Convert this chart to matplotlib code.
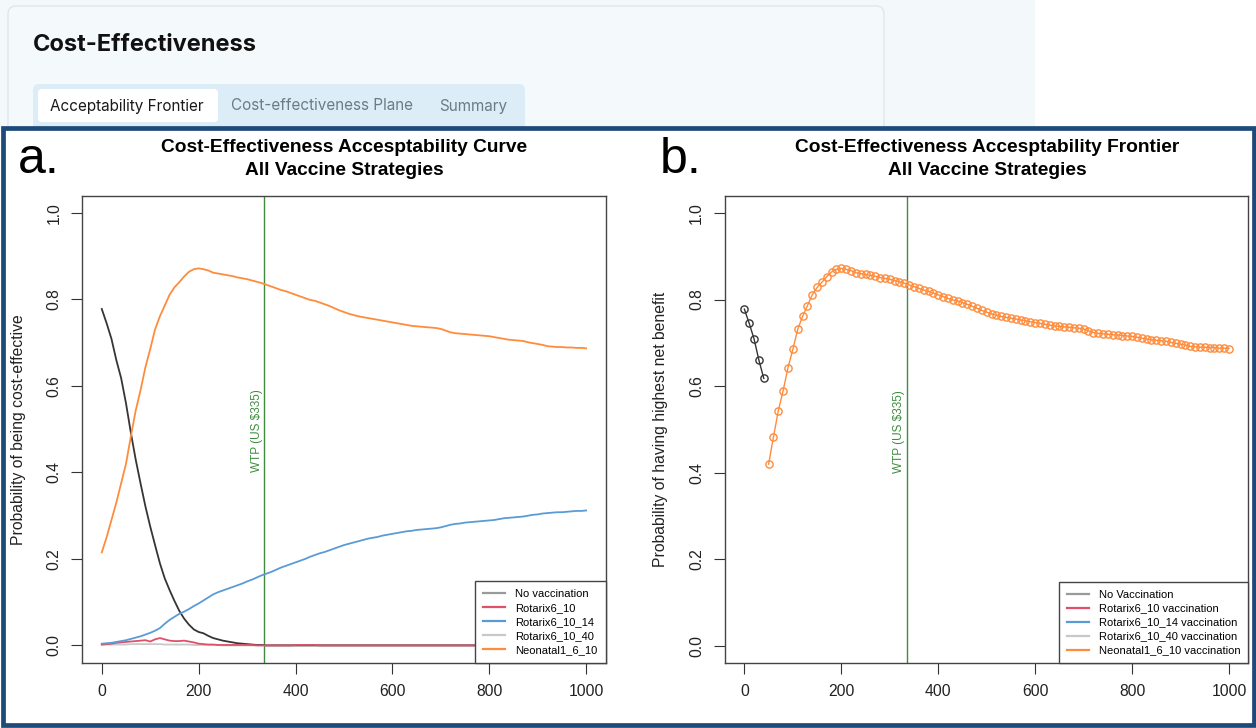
import numpy as np
import matplotlib
matplotlib.use("Agg")
import matplotlib.pyplot as plt
from matplotlib.patches import Rectangle, FancyBboxPatch
from matplotlib.lines import Line2D

plt.rcParams['font.family'] = ['Liberation Sans', 'DejaVu Sans']

# willingness to pay grid (US$)
wtp = list(range(0, 1001, 10))

no_vacc = [0.778, 0.745, 0.709, 0.660, 0.618, 0.560, 0.492, 0.430, 0.375, 0.322,
           0.275, 0.232, 0.190, 0.155, 0.128, 0.103, 0.080, 0.062, 0.048, 0.037,
           0.031, 0.028, 0.022, 0.017, 0.014, 0.011, 0.009, 0.007, 0.005, 0.004,
           0.003, 0.002, 0.001, 0.001] + [0.0] * 67

rotarix_10 = [0.002, 0.003, 0.004, 0.006, 0.007, 0.008, 0.009, 0.010, 0.011, 0.012,
              0.009, 0.014, 0.017, 0.014, 0.011, 0.010, 0.010, 0.011, 0.009, 0.007,
              0.004, 0.003, 0.002, 0.002, 0.001, 0.001, 0.001, 0.001, 0.001, 0.001,
              0.001, 0.001, 0.0, 0.0, 0.0, 0.0, 0.0, 0.0, 0.0, 0.0,
              0.001, 0.001, 0.001, 0.001, 0.001, 0.0, 0.0, 0.0, 0.0, 0.0] + [0.0] * 51

rotarix_10_14 = [0.004, 0.005, 0.006, 0.008, 0.010, 0.012, 0.015, 0.018, 0.021, 0.025,
                 0.029, 0.034, 0.040, 0.050, 0.059, 0.066, 0.073, 0.078, 0.084, 0.091,
                 0.097, 0.104, 0.111, 0.118, 0.123, 0.127, 0.131, 0.135, 0.139, 0.143,
                 0.148, 0.152, 0.157, 0.162, 0.166, 0.170, 0.175, 0.180, 0.184, 0.188,
                 0.192, 0.196, 0.200, 0.205, 0.209, 0.213, 0.216, 0.220, 0.224, 0.228,
                 0.232, 0.235, 0.238, 0.241, 0.244, 0.247, 0.249, 0.251, 0.254, 0.256,
                 0.258, 0.260, 0.262, 0.264, 0.265, 0.267, 0.268, 0.269, 0.270, 0.271,
                 0.273, 0.276, 0.279, 0.281, 0.282, 0.284, 0.285, 0.286, 0.287, 0.288,
                 0.289, 0.290, 0.292, 0.294, 0.295, 0.296, 0.297, 0.298, 0.300, 0.302,
                 0.303, 0.305, 0.306, 0.307, 0.308, 0.308, 0.309, 0.310, 0.311, 0.311,
                 0.312]

rotarix_10_40 = [0.001, 0.002, 0.002, 0.002, 0.002, 0.002, 0.003, 0.003, 0.003, 0.003,
                 0.003, 0.003, 0.003, 0.002, 0.002, 0.002, 0.002, 0.002, 0.002, 0.001,
                 0.001, 0.001, 0.001, 0.001, 0.001, 0.0, 0.0, 0.0, 0.0, 0.0] + [0.0] * 71

neonatal = [0.215, 0.250, 0.290, 0.330, 0.375, 0.420, 0.483, 0.543, 0.590, 0.643,
            0.685, 0.731, 0.761, 0.786, 0.811, 0.828, 0.840, 0.853, 0.864, 0.870,
            0.872, 0.870, 0.867, 0.862, 0.860, 0.858, 0.856, 0.854, 0.851, 0.849,
            0.847, 0.844, 0.841, 0.838, 0.834, 0.830, 0.826, 0.822, 0.819, 0.815,
            0.811, 0.807, 0.803, 0.799, 0.797, 0.793, 0.789, 0.785, 0.780, 0.775,
            0.771, 0.767, 0.764, 0.761, 0.759, 0.757, 0.755, 0.753, 0.751, 0.749,
            0.747, 0.745, 0.743, 0.741, 0.739, 0.738, 0.737, 0.736, 0.735, 0.734,
            0.732, 0.728, 0.724, 0.722, 0.721, 0.720, 0.719, 0.718, 0.717, 0.716,
            0.715, 0.713, 0.711, 0.709, 0.707, 0.706, 0.705, 0.704, 0.701, 0.699,
            0.697, 0.695, 0.692, 0.691, 0.690, 0.690, 0.689, 0.689, 0.688, 0.688,
            0.687]

# optimal strategy switches from no vaccination to Neonatal at this WTP
frontier_switch = 50
wtp_threshold = 335

labels_a = ["No vaccination", "Rotarix6_10", "Rotarix6_10_14", "Rotarix6_10_40", "Neonatal1_6_10"]
labels_b = ["No Vaccination", "Rotarix6_10 vaccination", "Rotarix6_10_14 vaccination",
            "Rotarix6_10_40 vaccination", "Neonatal1_6_10 vaccination"]

c_black = '#353535'
c_red = '#e0506a'
c_blue = '#5b9bd5'
c_lgray = '#c8c8c8'
c_orange = '#ff8c3c'
c_green = '#3f8c3f'
legend_colors = ['#9a9a9a', c_red, c_blue, c_lgray, c_orange]

W, H = 1256, 728
fig = plt.figure(figsize=(W / 100, H / 100), dpi=100)


def rect(l, t, r, b):
    return [l / W, 1 - b / H, (r - l) / W, (b - t) / H]


# page background / header
bg = fig.add_axes([0, 0, 1, 1])
bg.set_xlim(0, W)
bg.set_ylim(H, 0)
bg.axis('off')
bg.add_patch(Rectangle((0, 0), 1035, 130, facecolor='#f3f8fa', edgecolor='none'))
bg.add_patch(FancyBboxPatch((8, 6), 876, 140, boxstyle="round,pad=0,rounding_size=8",
                            facecolor='#f4f9fb', edgecolor='#e0e7eb', lw=1))
bg.add_patch(FancyBboxPatch((33, 84), 492, 50, boxstyle="round,pad=0,rounding_size=6",
                            facecolor='#dcedf8', edgecolor='none'))
bg.add_patch(FancyBboxPatch((38, 89), 180, 33, boxstyle="round,pad=0,rounding_size=4",
                            facecolor='white', edgecolor='none'))
bg.text(33, 45, "Cost-Effectiveness", fontsize=17, fontweight='bold', family='Inter',
        color='#111111', va='center', ha='left')
bg.text(127, 106, "Acceptability Frontier", fontsize=11, family='Inter',
        color='#1a1a1a', va='center', ha='center')
bg.text(322, 106, "Cost-effectiveness Plane", fontsize=11, family='Inter',
        color='#6c7b87', va='center', ha='center')
bg.text(473, 106, "Summary", fontsize=11, family='Inter',
        color='#6c7b87', va='center', ha='center')

# figure frame
bg.add_patch(Rectangle((2.5, 128), W - 5, H - 131, facecolor='white',
                       edgecolor='#1e4a7a', lw=3.4))

bg.text(18, 173, "a.", fontsize=36, va='baseline', ha='left', color='black')
bg.text(660, 173, "b.", fontsize=36, va='baseline', ha='left', color='black')
bg.text(344, 159, "Cost-Effectiveness Accesptability Curve\nAll Vaccine Strategies",
        fontsize=13.8, fontweight='bold', ha='center', va='center', linespacing=1.4)
bg.text(987, 159, "Cost-Effectiveness Accesptability Frontier\nAll Vaccine Strategies",
        fontsize=13.8, fontweight='bold', ha='center', va='center', linespacing=1.4)


def style_axes(ax, ylabel):
    ax.set_xlim(-40, 1040)
    ax.set_ylim(-0.04, 1.04)
    ax.set_xticks([0, 200, 400, 600, 800, 1000])
    ax.set_yticks([0.0, 0.2, 0.4, 0.6, 0.8, 1.0])
    ax.set_yticklabels(["0.0", "0.2", "0.4", "0.6", "0.8", "1.0"])
    ax.tick_params(direction='out', length=8, width=0.8, color='#333333',
                   labelsize=11.3, labelcolor='#222222', pad=7)
    plt.setp(ax.get_yticklabels(), rotation=90, va='center')
    for s in ax.spines.values():
        s.set_color('#444444')
        s.set_linewidth(1)
    ax.set_ylabel(ylabel, fontsize=11.3, color='#222222', labelpad=15)
    ax.axvline(wtp_threshold, color=c_green, lw=1, zorder=1)
    ax.text(wtp_threshold - 3, 0.4, "WTP (US $335)", rotation=90, color=c_green,
            fontsize=8.5, ha='right', va='bottom')


# panel a: acceptability curves
ax1 = fig.add_axes(rect(82.4, 195.7, 605.5, 662.7))
style_axes(ax1, "Probability of being cost-effective")
ax1.plot(wtp, rotarix_10_40, color=c_lgray, lw=1.3)
ax1.plot(wtp, no_vacc, color=c_black, lw=1.3)
ax1.plot(wtp, rotarix_10, color=c_red, lw=1.3)
ax1.plot(wtp, rotarix_10_14, color=c_blue, lw=1.3)
ax1.plot(wtp, neonatal, color=c_orange, lw=1.3)

handles = [Line2D([], [], color=c, lw=1.6) for c in legend_colors]
leg_kw = dict(loc='lower right', borderaxespad=0, fontsize=8, frameon=True, fancybox=False,
              edgecolor='#444444', framealpha=1, handlelength=2.0, handletextpad=0.9,
              labelspacing=0.36, borderpad=0.7)
leg = ax1.legend(handles, labels_a, **leg_kw)
leg.get_frame().set_linewidth(1)

# panel b: acceptability frontier
ax2 = fig.add_axes(rect(725, 195.7, 1248.4, 663.3))
style_axes(ax2, "Probability of having highest net benefit")
wtp_arr = np.array(wtp)
first = wtp_arr < frontier_switch
ax2.plot(wtp_arr[first], np.array(no_vacc)[first], color=c_black, lw=1,
         marker='o', ms=5.2, mfc='none', mew=1)
ax2.plot(wtp_arr[~first], np.array(neonatal)[~first], color=c_orange, lw=1,
         marker='o', ms=5.2, mfc='none', mew=1)
leg = ax2.legend(handles, labels_b, **leg_kw)
leg.get_frame().set_linewidth(1)

fig.savefig("out.png", dpi=100)
